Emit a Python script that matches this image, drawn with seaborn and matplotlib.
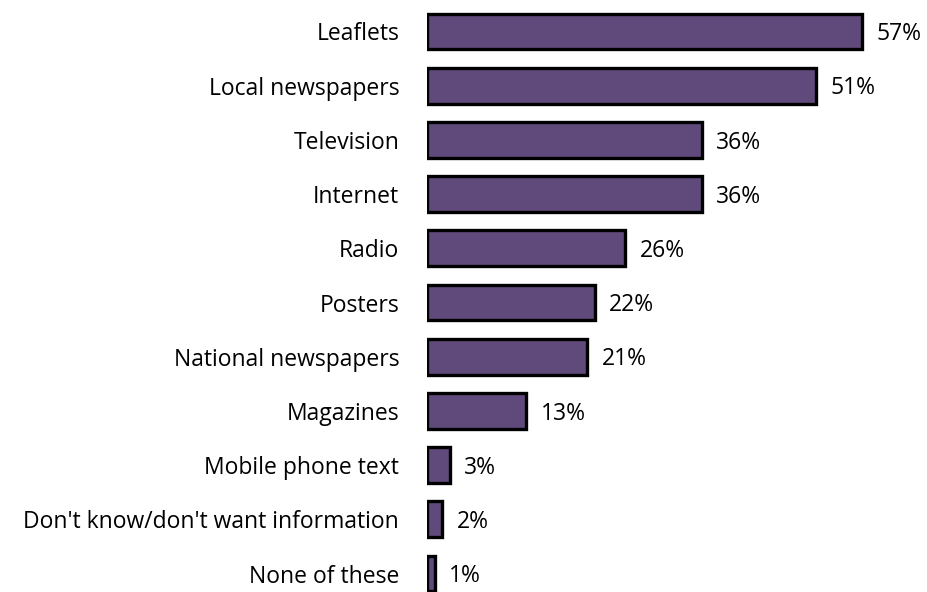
import matplotlib
matplotlib.use("Agg")
import matplotlib.pyplot as plt
import seaborn as sns
import pandas as pd

categories = [
    "Leaflets", "Local newspapers", "Television", "Internet", "Radio",
    "Posters", "National newspapers", "Magazines", "Mobile phone text",
    "Don't know/don't want information", "None of these",
]
values = [57, 51, 36, 36, 26, 22, 21, 13, 3, 2, 1]

df = pd.DataFrame({"source": categories, "pct": values})

sns.set_theme(style="white")
plt.rcParams["font.family"] = ["Open Sans", "DejaVu Sans"]

fig = plt.figure(figsize=(9.28, 5.92), dpi=100)
ax = fig.add_axes([427 / 928, 0.0, 473 / 928, 1.0])

sns.barplot(data=df, y="source", x="pct", orient="h", color="#604A7B",
            saturation=1, width=0.66, edgecolor="black", linewidth=2.4, ax=ax)

ax.set_xlim(0, 62)
ax.set_ylim(10.34, -0.58)
ax.set_xlabel("")
ax.set_ylabel("")
ax.set_xticks([])
ax.tick_params(axis="y", length=0, pad=20, labelsize=16.5, labelcolor="black")
for s in ax.spines.values():
    s.set_visible(False)

for i, v in enumerate(values):
    ax.text(v + 1.9, i + 0.05, f"{v}%", va="center", ha="left",
            fontsize=16.5, color="black")

fig.savefig("out.png", dpi=100)
